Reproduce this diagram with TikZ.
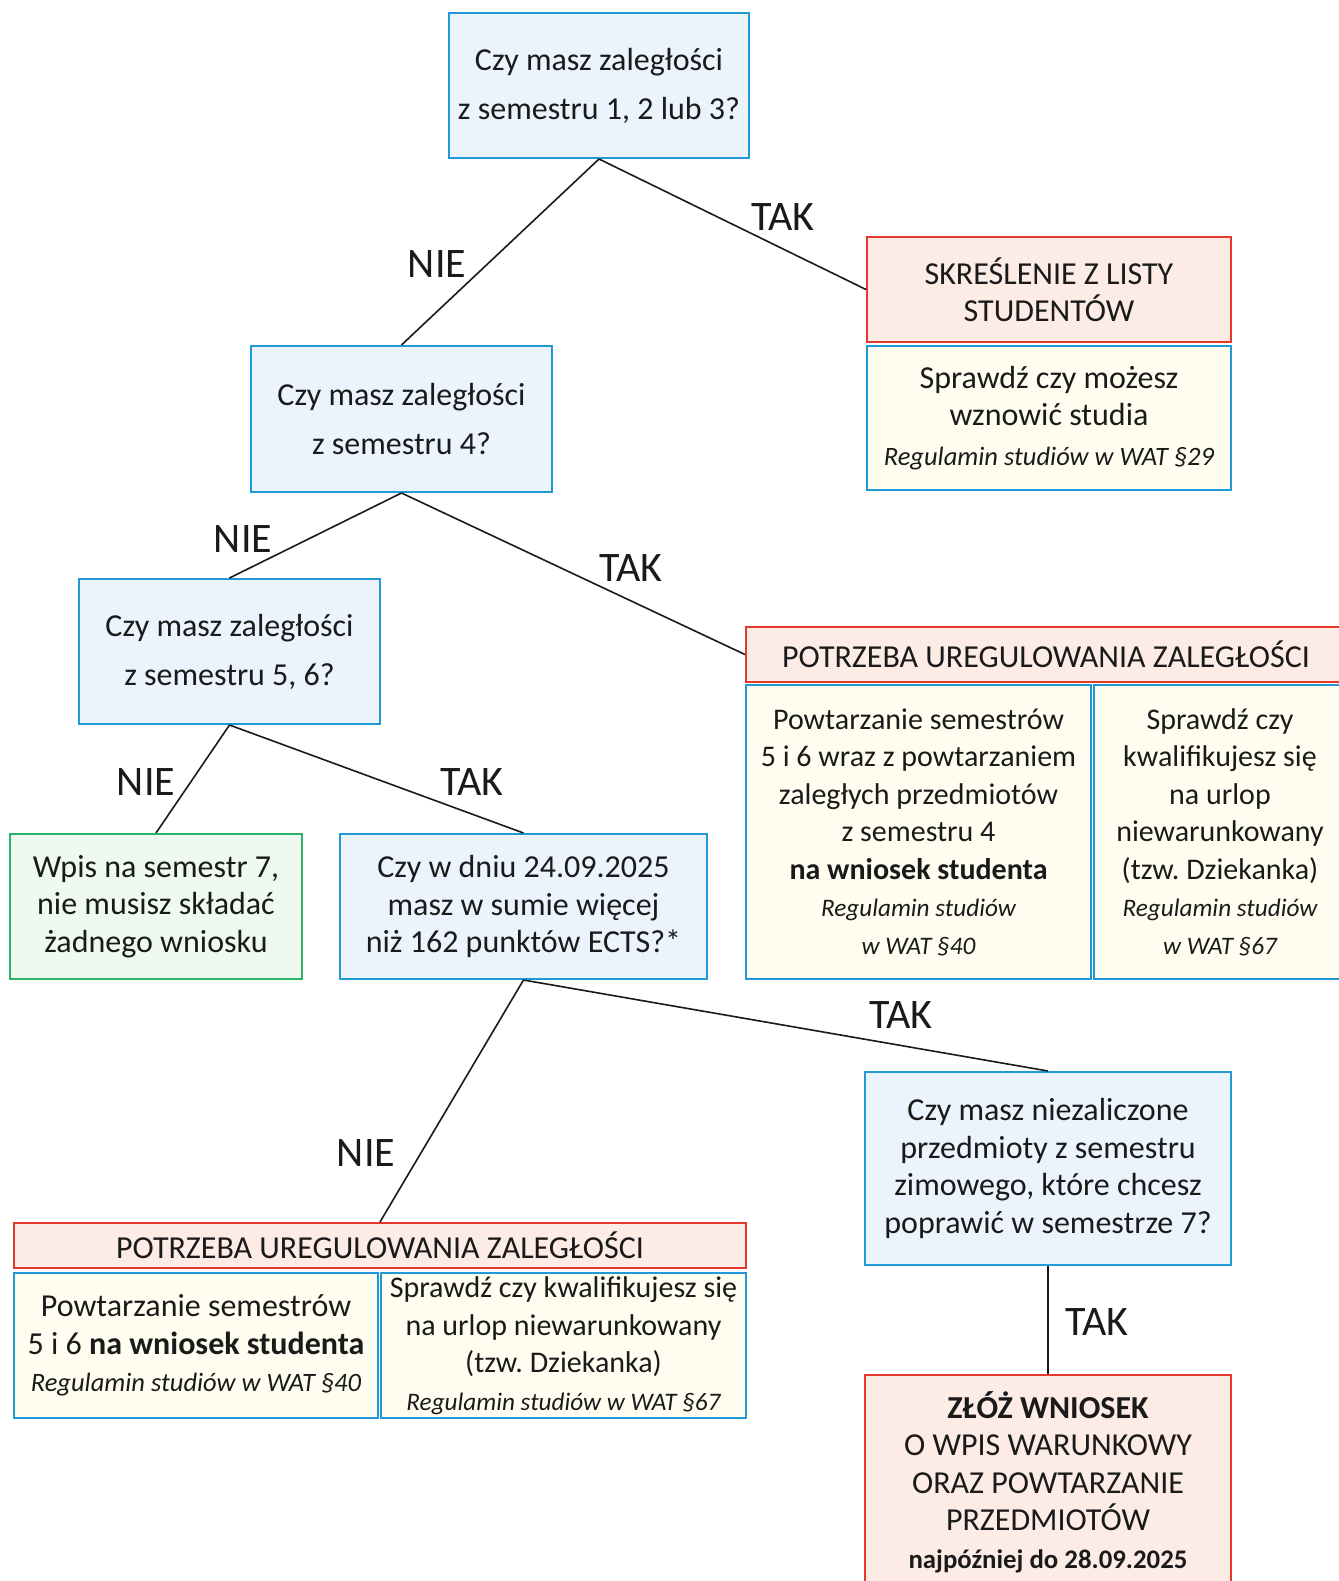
\documentclass[tikz,border=0pt]{standalone}
\usepackage{fontspec}
\setmainfont{Carlito}
\definecolor{qfill}{HTML}{EBF4FC}
\definecolor{qdraw}{HTML}{1F9AD6}
\definecolor{rfill}{HTML}{FDECE6}
\definecolor{rdraw}{HTML}{E5392C}
\definecolor{yfill}{HTML}{FEFDEF}
\definecolor{gfill}{HTML}{EEF9F0}
\definecolor{gdraw}{HTML}{2DB36A}
\definecolor{ink}{HTML}{1A1A1A}
\tikzset{
  base/.style={rectangle, inner sep=0pt, align=center, line width=1pt, text=ink,
    font=\fontsize{16}{18.75}\selectfont},
  qbox/.style={base, fill=qfill, draw=qdraw},
  qbig/.style={qbox, font=\fontsize{16}{24.5}\selectfont},
  rbox/.style={base, fill=rfill, draw=rdraw},
  ybox/.style={base, fill=yfill, draw=qdraw},
  ysmall/.style={ybox, font=\fontsize{15}{18.75}\selectfont},
  gbox/.style={base, fill=gfill, draw=gdraw},
  conn/.style={draw=ink, line width=0.8pt},
  lab/.style={text=ink, font=\fontsize{21}{21}\selectfont, inner sep=0pt},
}
\newcommand{\regs}[1]{{\fontsize{13.25}{18.75}\selectfont\itshape #1}}
\newcommand{\regsS}[1]{{\fontsize{12.6}{18.75}\selectfont\itshape #1}}
\frenchspacing
\begin{document}
\begin{tikzpicture}[x=0.5pt,y=-0.5pt]
\useasboundingbox (0,0) rectangle (1339,1581);
\clip (0,0) rectangle (1339,1581);
\fill[white] (0,0) rectangle (1339,1581);

\node[qbig, minimum width=150pt, minimum height=72.5pt] (q1) at (599,85.5)
  {Czy masz zaległości\\z semestru 1, 2 lub 3?};
\node[rbox, minimum width=182pt, minimum height=52.5pt] (r1) at (1049,289.5)
  {SKREŚLENIE Z LISTY\\STUDENTÓW};
\node[ybox, minimum width=182pt, minimum height=72pt] (y1) at (1049,418)
  {Sprawdź czy możesz\\wznowić studia\\[1pt]\regs{Regulamin studiów w WAT §29}};
\node[qbig, minimum width=150.5pt, minimum height=73pt] (q2) at (401.5,419)
  {Czy masz zaległości\\z semestru 4?};
\node[qbig, minimum width=150.5pt, minimum height=72.5pt] (q3) at (229.5,651.5)
  {Czy masz zaległości\\z semestru 5, 6?};
\node[rbox, minimum width=300pt, minimum height=27.5pt] (r2) at (1046,654.5)
  {POTRZEBA UREGULOWANIA ZALEGŁOŚCI};
\node[ysmall, minimum width=172.5pt, minimum height=147pt] (y2a) at (918.5,832)
  {Powtarzanie semestrów\\5 i 6 wraz z powtarzaniem\\zaległych przedmiotów\\z semestru 4\\\textbf{na wniosek studenta}\\\regsS{Regulamin studiów}\\\regsS{w WAT §40}};
\node[ysmall, minimum width=126pt, minimum height=147pt] (y2b) at (1220,832)
  {Sprawdź czy\\kwalifikujesz się\\na urlop\\niewarunkowany\\(tzw. Dziekanka)\\\regsS{Regulamin studiów}\\\regsS{w WAT §67}};
\node[gbox, minimum width=146pt, minimum height=72.5pt] (g) at (156,906.5)
  {Wpis na semestr 7,\\nie musisz składać\\żadnego wniosku};
\node[qbox, minimum width=183.5pt, minimum height=72.5pt] (q4) at (523.5,906.5)
  {Czy w dniu 24.09.2025\\masz w sumie więcej\\niż 162 punktów ECTS?*};
\node[qbox, minimum width=183pt, minimum height=96.5pt] (q5) at (1048,1168.5)
  {Czy masz niezaliczone\\przedmioty z semestru\\zimowego, które chcesz\\poprawić w semestrze 7?};
\node[rbox, minimum width=366pt, minimum height=22.5pt] (r3) at (380,1245.5)
  {POTRZEBA UREGULOWANIA ZALEGŁOŚCI};
\node[ybox, minimum width=182pt, minimum height=72.5pt] (y3a) at (196,1345.5)
  {Powtarzanie semestrów\\5 i 6 \textbf{na wniosek studenta}\\\regs{Regulamin studiów w WAT §40}};
\node[ysmall, minimum width=182.5pt, minimum height=72.5pt] (y3b) at (563.5,1345.5)
  {Sprawdź czy kwalifikujesz się\\na urlop niewarunkowany\\(tzw. Dziekanka)\\\regsS{Regulamin studiów w WAT §67}};
\node[rbox, minimum width=183pt, minimum height=107pt] (r4) at (1048,1482)
  {\textbf{ZŁÓŻ WNIOSEK}\\O WPIS WARUNKOWY\\ORAZ POWTARZANIE\\PRZEDMIOTÓW\\{\fontsize{13.4}{18.75}\selectfont\bfseries najpóźniej do 28.09.2025}};

\draw[conn] (q1.south) -- (q2.north);
\draw[conn] (q1.south) -- (r1.west);
\draw[conn] (q2.south) -- (q3.north);
\draw[conn] (q2.south) -- (r2.west);
\draw[conn] (q3.south) -- (g.north);
\draw[conn] (q3.south) -- (q4.north);
\draw[conn] (q4.south) -- (r3.north);
\draw[conn] (q4.south) -- (q5.north);
\draw[conn] (q5.south) -- (r4.north);

\node[lab] (l1) at (437,264) {NIE};
\node[lab] (l2) at (783,217) {TAK};
\node[lab] (l3) at (243,539) {NIE};
\node[lab] (l4) at (631,568) {TAK};
\node[lab] (l5) at (146,782) {NIE};
\node[lab] (l6) at (472,782) {TAK};
\node[lab] (l7) at (366,1153) {NIE};
\node[lab] (l8) at (901,1015) {TAK};
\node[lab] (l9) at (1097,1322) {TAK};
\end{tikzpicture}
\end{document}
